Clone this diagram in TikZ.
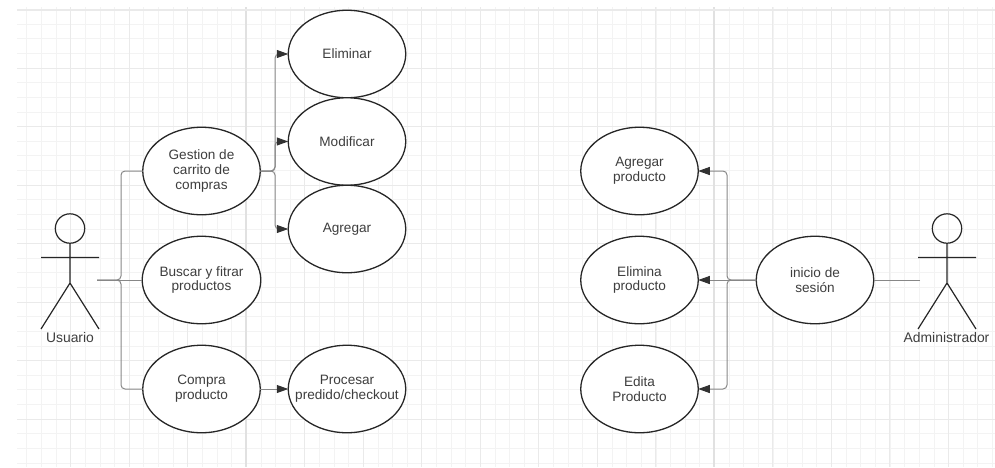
\documentclass[tikz,border=0pt]{standalone}
\usepackage{fontspec}
\setmainfont{Liberation Sans}
\usetikzlibrary{arrows.meta,shapes.geometric}
\definecolor{ucgrid}{RGB}{243,243,243}
\definecolor{ucmajor}{RGB}{234,234,234}
\definecolor{ucheavy}{RGB}{225,225,225}
\definecolor{uctext}{RGB}{62,62,62}
\definecolor{ucconn}{RGB}{135,135,135}
\definecolor{uctip}{RGB}{50,50,50}

\begin{document}
\begin{tikzpicture}[
    x=1pt, y=-1pt,
    >={Triangle[length=11.5pt,width=8pt,color=uctip]},
    uc/.style={ellipse, draw=black!85, line width=1.3pt, fill=white, minimum width=117.5pt, minimum height=87.5pt, inner sep=0pt, outer sep=0pt, align=center, font=\fontsize{13.6}{14.7}\selectfont, text=uctext},
    conn/.style={draw=ucconn, line width=1pt, rounded corners=4pt},
    stick/.style={draw=black!85, line width=1.2pt},
    tag/.style={font=\fontsize{13.9}{15}\selectfont, text=uctext, inner sep=0pt},
  ]
  \useasboundingbox (0,0) rectangle (995,467);

  %% ---------------- grid ----------------
  \foreach \i in {0,...,67} {
    \draw[ucgrid, line width=0.8pt] ({12.2+\i*14.63+14.63},7) -- ({12.2+\i*14.63+14.63},467);
  }
  \foreach \j in {0,...,31} {
    \draw[ucgrid, line width=0.8pt] (17,{9.5+\j*14.63}) -- (995,{9.5+\j*14.63});
  }
  \foreach \i in {0,...,15} {
    \draw[ucmajor, line width=0.9pt] ({70.7+\i*58.5},7) -- ({70.7+\i*58.5},467);
  }
  \foreach \j in {1,...,7} {
    \draw[ucmajor, line width=0.9pt] (17,{9.5+\j*58.5}) -- (995,{9.5+\j*58.5});
  }
  \draw[ucheavy, line width=1.1pt] (246,7) -- (246,467);
  \draw[ucheavy, line width=1.1pt] (714,7) -- (714,467);
  \draw[ucmajor, line width=2pt] (17,9.5) -- (995,9.5);

  %% ---------------- left: usuario ----------------
  \node[uc] (eliminar) at (347,54) {Eliminar};
  \node[uc] (modificar) at (347,141.5) {Modificar};
  \node[uc] (agregar) at (347,229) {Agregar};
  \node[uc] (gestion) at (201.5,171) {Gestion de\\carrito de\\compras};
  \node[uc] (buscar) at (201.5,280) {Buscar y fitrar\\productos};
  \node[uc] (compra) at (201.5,389) {Compra\\producto};
  \node[uc] (procesar) at (347,389) {Procesar\\\makebox[70pt]{predido/checkout}};

  \draw[stick] (70,228.5) circle (14.7);
  \draw[stick] (70,243.2) -- (70,283) (41,257.5) -- (99,257.5) (41,329) -- (70,283) -- (99,329);
  \node[tag] (usuario) at (70,338) {Usuario};

  \coordinate (usrport) at (97,280);
  \coordinate (usrbus) at (121,280);
  \coordinate (carbus) at (275,171);
  \draw[conn] (usrport) -- (usrbus) |- (gestion.west);
  \draw[conn] (usrport) -- (buscar.west);
  \draw[conn] (usrport) -- (usrbus) |- (compra.west);
  \draw[conn, ->] (gestion.east) -- (carbus) |- (eliminar.west);
  \draw[conn, ->] (gestion.east) -- (carbus) |- (modificar.west);
  \draw[conn, ->] (gestion.east) -- (carbus) |- (agregar.west);
  \draw[conn, ->] (compra.east) -- (procesar.west);

  %% ---------------- right: administrador ----------------
  \node[uc] (agregarp) at (639.5,171) {Agregar\\producto};
  \node[uc] (eliminap) at (639.5,280) {Elimina\\producto};
  \node[uc] (editap) at (639.5,389) {Edita\\Producto};
  \node[uc] (inicio) at (815,280) {inicio de\\sesión};

  \draw[stick] (947,228.5) circle (14.7);
  \draw[stick] (947,243.2) -- (947,283) (918,257.5) -- (976,257.5) (918,329) -- (947,283) -- (976,329);
  \node[tag] (admin) at (946.5,338) {Administrador};

  \coordinate (admport) at (920,280);
  \coordinate (adminbus) at (727,280);
  \draw[conn] (admport) -- (inicio.east);
  \draw[conn, ->] (inicio.west) -- (adminbus) |- (agregarp.east);
  \draw[conn, ->] (inicio.west) -- (eliminap.east);
  \draw[conn, ->] (inicio.west) -- (adminbus) |- (editap.east);

\end{tikzpicture}
\end{document}
